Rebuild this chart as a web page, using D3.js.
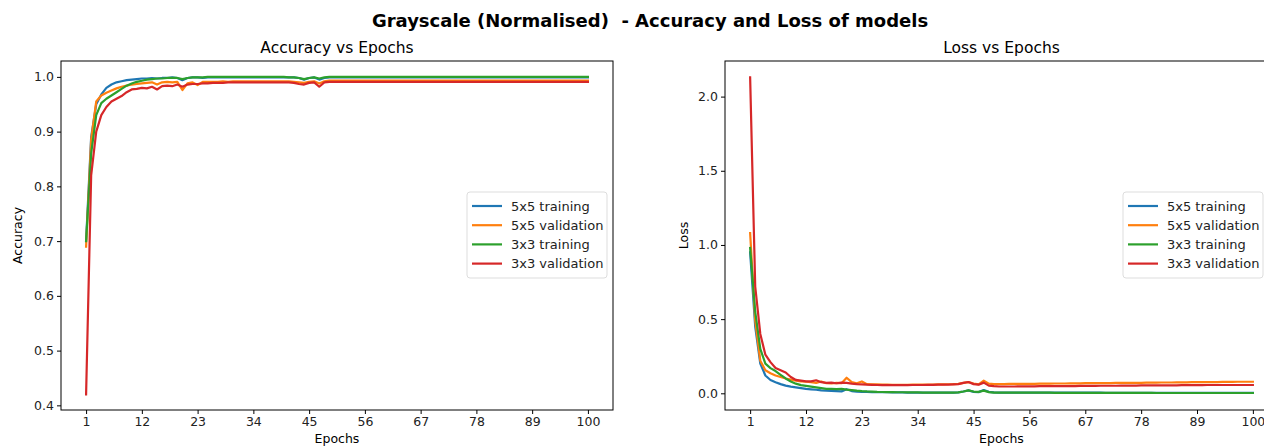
<!DOCTYPE html>
<html>
<head>
<meta charset="utf-8">
<script src="https://cdn.jsdelivr.net/npm/d3@7"></script>
<style>
  body { margin: 0; background: #fff; }
  svg { display: block; font-family: "DejaVu Sans", sans-serif; }
</style>
</head>
<body>
<script>
// data, one value per epoch (1..100)
var epochs = d3.range(1, 101);
var xTicks = [1, 12, 23, 34, 45, 56, 67, 78, 89, 100];
var accTicks = [0.4, 0.5, 0.6, 0.7, 0.8, 0.9, 1.0];
var lossTicks = [0.0, 0.5, 1.0, 1.5, 2.0];
var seriesNames = ["5x5 training", "5x5 validation", "3x3 training", "3x3 validation"];
var colors = ["#1f77b4", "#ff7f0e", "#2ca02c", "#d62728"];

var acc5Train = [
  0.700, 0.890, 0.950, 0.968, 0.980, 0.986, 0.990, 0.992, 0.994, 0.995,
  0.996, 0.997, 0.997, 0.998, 0.997, 0.998, 0.998, 0.999, 0.998, 0.994,
  0.998, 0.999, 0.999, 0.998, 0.999, 0.999, 0.999, 0.999, 0.999, 0.999,
  0.999, 0.999, 0.999, 0.999, 0.999, 0.999, 0.999, 0.999, 0.999, 0.999,
  0.999, 0.999, 0.998, 0.995, 0.998, 0.999, 0.995, 0.998, 0.999, 0.999,
  0.999, 0.999, 0.999, 0.999, 0.999, 0.999, 0.999, 0.999, 0.999, 0.999,
  0.999, 0.999, 0.999, 0.999, 0.999, 0.999, 0.999, 0.999, 0.999, 0.999,
  0.999, 0.999, 0.999, 0.999, 0.999, 0.999, 0.999, 0.999, 0.999, 0.999,
  0.999, 0.999, 0.999, 0.999, 0.999, 0.999, 0.999, 0.999, 0.999, 0.999,
  0.999, 0.999, 0.999, 0.999, 0.999, 0.999, 0.999, 0.999, 0.999, 0.999
];
var acc5Val = [
  0.690, 0.885, 0.955, 0.966, 0.971, 0.975, 0.979, 0.982, 0.984, 0.986,
  0.987, 0.988, 0.989, 0.990, 0.986, 0.990, 0.991, 0.990, 0.991, 0.976,
  0.988, 0.990, 0.985, 0.991, 0.991, 0.991, 0.991, 0.992, 0.991, 0.992,
  0.992, 0.992, 0.992, 0.992, 0.992, 0.992, 0.992, 0.992, 0.992, 0.992,
  0.992, 0.991, 0.990, 0.989, 0.991, 0.992, 0.988, 0.992, 0.993, 0.993,
  0.993, 0.993, 0.993, 0.993, 0.993, 0.993, 0.993, 0.993, 0.993, 0.993,
  0.993, 0.993, 0.993, 0.993, 0.993, 0.993, 0.993, 0.993, 0.993, 0.993,
  0.993, 0.993, 0.993, 0.993, 0.993, 0.993, 0.993, 0.993, 0.993, 0.993,
  0.993, 0.993, 0.993, 0.993, 0.993, 0.993, 0.993, 0.993, 0.993, 0.993,
  0.993, 0.993, 0.993, 0.993, 0.993, 0.993, 0.993, 0.993, 0.993, 0.993
];
var acc3Train = [
  0.700, 0.860, 0.930, 0.952, 0.960, 0.966, 0.972, 0.978, 0.984, 0.988,
  0.991, 0.993, 0.995, 0.996, 0.997, 0.997, 0.998, 0.998, 0.998, 0.996,
  0.998, 0.999, 0.999, 0.999, 1.000, 1.000, 1.000, 1.000, 1.000, 1.000,
  1.000, 1.000, 1.000, 1.000, 1.000, 1.000, 1.000, 1.000, 1.000, 1.000,
  0.999, 0.999, 0.998, 0.996, 0.998, 0.999, 0.997, 0.999, 1.000, 1.000,
  1.000, 1.000, 1.000, 1.000, 1.000, 1.000, 1.000, 1.000, 1.000, 1.000,
  1.000, 1.000, 1.000, 1.000, 1.000, 1.000, 1.000, 1.000, 1.000, 1.000,
  1.000, 1.000, 1.000, 1.000, 1.000, 1.000, 1.000, 1.000, 1.000, 1.000,
  1.000, 1.000, 1.000, 1.000, 1.000, 1.000, 1.000, 1.000, 1.000, 1.000,
  1.000, 1.000, 1.000, 1.000, 1.000, 1.000, 1.000, 1.000, 1.000, 1.000
];
var acc3Val = [
  0.420, 0.820, 0.900, 0.930, 0.945, 0.955, 0.960, 0.965, 0.972, 0.977,
  0.978, 0.980, 0.979, 0.982, 0.977, 0.983, 0.984, 0.983, 0.986, 0.982,
  0.986, 0.987, 0.987, 0.988, 0.988, 0.989, 0.989, 0.989, 0.990, 0.990,
  0.990, 0.990, 0.990, 0.990, 0.990, 0.990, 0.990, 0.990, 0.990, 0.990,
  0.990, 0.989, 0.987, 0.986, 0.989, 0.990, 0.982, 0.990, 0.991, 0.991,
  0.991, 0.991, 0.991, 0.991, 0.991, 0.991, 0.991, 0.991, 0.991, 0.991,
  0.991, 0.991, 0.991, 0.991, 0.991, 0.991, 0.991, 0.991, 0.991, 0.991,
  0.991, 0.991, 0.991, 0.991, 0.991, 0.991, 0.991, 0.991, 0.991, 0.991,
  0.991, 0.991, 0.991, 0.991, 0.991, 0.991, 0.991, 0.991, 0.991, 0.991,
  0.991, 0.991, 0.991, 0.991, 0.991, 0.991, 0.991, 0.991, 0.991, 0.991
];

var loss5Train = [
  0.950, 0.450, 0.200, 0.120, 0.090, 0.075, 0.062, 0.052, 0.045, 0.040,
  0.035, 0.030, 0.027, 0.024, 0.020, 0.018, 0.016, 0.015, 0.013, 0.028,
  0.015, 0.012, 0.010, 0.010, 0.008, 0.008, 0.007, 0.007, 0.006, 0.006,
  0.006, 0.005, 0.005, 0.005, 0.005, 0.005, 0.005, 0.005, 0.005, 0.005,
  0.005, 0.006, 0.012, 0.020, 0.010, 0.008, 0.022, 0.010, 0.006, 0.005,
  0.004, 0.004, 0.004, 0.004, 0.004, 0.004, 0.004, 0.004, 0.004, 0.004,
  0.004, 0.004, 0.004, 0.004, 0.004, 0.004, 0.004, 0.004, 0.004, 0.004,
  0.003, 0.003, 0.003, 0.003, 0.003, 0.003, 0.003, 0.003, 0.003, 0.003,
  0.003, 0.003, 0.003, 0.003, 0.003, 0.003, 0.003, 0.003, 0.003, 0.003,
  0.003, 0.003, 0.003, 0.003, 0.003, 0.003, 0.003, 0.003, 0.003, 0.003
];
var loss5Val = [
  1.080, 0.490, 0.220, 0.155, 0.135, 0.120, 0.110, 0.100, 0.092, 0.085,
  0.080, 0.078, 0.075, 0.070, 0.080, 0.068, 0.066, 0.070, 0.068, 0.105,
  0.075, 0.068, 0.080, 0.062, 0.060, 0.060, 0.058, 0.058, 0.057, 0.057,
  0.057, 0.057, 0.058, 0.058, 0.058, 0.059, 0.059, 0.060, 0.060, 0.061,
  0.062, 0.064, 0.070, 0.075, 0.066, 0.060, 0.085, 0.065, 0.062, 0.062,
  0.062, 0.063, 0.063, 0.063, 0.064, 0.064, 0.064, 0.065, 0.065, 0.065,
  0.066, 0.066, 0.066, 0.067, 0.067, 0.067, 0.068, 0.068, 0.068, 0.069,
  0.069, 0.069, 0.070, 0.070, 0.070, 0.071, 0.071, 0.071, 0.072, 0.072,
  0.072, 0.073, 0.073, 0.073, 0.074, 0.074, 0.074, 0.075, 0.075, 0.075,
  0.076, 0.076, 0.076, 0.077, 0.077, 0.077, 0.078, 0.078, 0.078, 0.078
];
var loss3Train = [
  0.980, 0.550, 0.300, 0.200, 0.170, 0.150, 0.125, 0.100, 0.080, 0.065,
  0.055, 0.050, 0.045, 0.040, 0.035, 0.030, 0.030, 0.028, 0.030, 0.025,
  0.022, 0.018, 0.015, 0.013, 0.012, 0.010, 0.009, 0.008, 0.008, 0.007,
  0.007, 0.006, 0.006, 0.006, 0.005, 0.005, 0.005, 0.005, 0.005, 0.005,
  0.005, 0.006, 0.012, 0.020, 0.012, 0.010, 0.018, 0.008, 0.005, 0.004,
  0.004, 0.004, 0.004, 0.004, 0.004, 0.004, 0.004, 0.004, 0.004, 0.004,
  0.003, 0.003, 0.003, 0.003, 0.003, 0.003, 0.003, 0.003, 0.003, 0.003,
  0.003, 0.003, 0.003, 0.003, 0.003, 0.003, 0.003, 0.003, 0.003, 0.003,
  0.002, 0.002, 0.002, 0.002, 0.002, 0.002, 0.002, 0.002, 0.002, 0.002,
  0.002, 0.002, 0.002, 0.002, 0.002, 0.002, 0.002, 0.002, 0.002, 0.002
];
var loss3Val = [
  2.130, 0.720, 0.400, 0.260, 0.210, 0.170, 0.155, 0.140, 0.110, 0.090,
  0.085, 0.080, 0.080, 0.088, 0.075, 0.070, 0.072, 0.068, 0.072, 0.070,
  0.065, 0.062, 0.060, 0.058, 0.057, 0.056, 0.055, 0.055, 0.055, 0.055,
  0.055, 0.055, 0.056, 0.056, 0.056, 0.057, 0.057, 0.058, 0.058, 0.058,
  0.060, 0.062, 0.070, 0.076, 0.062, 0.058, 0.072, 0.052, 0.048, 0.046,
  0.046, 0.046, 0.046, 0.047, 0.047, 0.047, 0.047, 0.048, 0.048, 0.048,
  0.048, 0.049, 0.049, 0.049, 0.049, 0.050, 0.050, 0.050, 0.050, 0.051,
  0.051, 0.051, 0.051, 0.052, 0.052, 0.052, 0.052, 0.053, 0.053, 0.053,
  0.053, 0.054, 0.054, 0.054, 0.054, 0.055, 0.055, 0.055, 0.055, 0.055,
  0.056, 0.056, 0.056, 0.056, 0.056, 0.056, 0.056, 0.056, 0.056, 0.056
];

var Width = 1264, Height = 446;

var svg = d3.select("body").append("svg")
  .attr("width", Width)
  .attr("height", Height);

svg.append("text")
  .attr("x", 650).attr("y", 27)
  .attr("text-anchor", "middle")
  .attr("font-size", 18).attr("font-weight", "bold")
  .attr("fill", "#000")
  .attr("xml:space", "preserve")
  .text("Grayscale (Normalised)  - Accuracy and Loss of models");

drawPanel({
  left: 61, right: 613, top: 61, bottom: 410,
  title: "Accuracy vs Epochs", ylabel: "Accuracy", ylabelX: 18,
  yDomain: [0.3915, 1.029], yTicks: accTicks, yFmt: d3.format(".1f"),
  series: [acc5Train, acc5Val, acc3Train, acc3Val],
  legendX: 467, legendY: 192
});

drawPanel({
  left: 725, right: 1278, top: 61, bottom: 410,
  title: "Loss vs Epochs", ylabel: "Loss", ylabelX: 684,
  yDomain: [-0.1125, 2.24], yTicks: lossTicks, yFmt: d3.format(".1f"),
  series: [loss5Train, loss5Val, loss3Train, loss3Val],
  legendX: 1123, legendY: 192
});

function drawPanel(p) {
  var x = d3.scaleLinear().domain([-3.95, 104.95]).range([p.left, p.right]);
  var y = d3.scaleLinear().domain(p.yDomain).range([p.bottom, p.top]);
  var g = svg.append("g");

  // lines
  var line = d3.line()
    .x(function(d, i) { return x(epochs[i]); })
    .y(function(d) { return y(d); });
  p.series.forEach(function(s, k) {
    g.append("path")
      .datum(s)
      .attr("d", line)
      .attr("fill", "none")
      .attr("stroke", colors[k])
      .attr("stroke-width", 2.2)
      .attr("stroke-linejoin", "round")
      .attr("stroke-linecap", "square");
  });

  // frame
  g.append("rect")
    .attr("x", p.left).attr("y", p.top)
    .attr("width", p.right - p.left).attr("height", p.bottom - p.top)
    .attr("fill", "none").attr("stroke", "#000").attr("stroke-width", 1);

  var xAxis = d3.axisBottom(x).tickValues(xTicks).tickSize(4).tickPadding(3);
  var gx = g.append("g").attr("transform", "translate(0," + p.bottom + ")").call(xAxis);
  var yAxis = d3.axisLeft(y).tickValues(p.yTicks).tickFormat(p.yFmt).tickSize(4).tickPadding(3);
  var gy = g.append("g").attr("transform", "translate(" + p.left + ",0)").call(yAxis);
  [gx, gy].forEach(function(a) {
    a.select(".domain").remove();
    a.selectAll("text").attr("font-size", 12.5).attr("fill", "#222").attr("font-family", "DejaVu Sans, sans-serif");
    a.selectAll("line").attr("stroke", "#000");
  });

  g.append("text")
    .attr("x", (p.left + p.right) / 2).attr("y", 53)
    .attr("text-anchor", "middle").attr("font-size", 15.5).attr("fill", "#000")
    .text(p.title);
  g.append("text")
    .attr("x", (p.left + p.right) / 2).attr("y", 443)
    .attr("text-anchor", "middle").attr("font-size", 12.5).attr("fill", "#000")
    .text("Epochs");
  g.append("text")
    .attr("transform", "translate(" + p.ylabelX + "," + ((p.top + p.bottom) / 2) + ") rotate(-90)")
    .attr("text-anchor", "middle").attr("font-size", 12.5).attr("fill", "#000")
    .attr("dy", "0.35em")
    .text(p.ylabel);

  // legend
  var lg = g.append("g").attr("transform", "translate(" + p.legendX + "," + p.legendY + ")");
  lg.append("rect")
    .attr("width", 140).attr("height", 86).attr("rx", 3)
    .attr("fill", "#fff").attr("fill-opacity", 0.8)
    .attr("stroke", "#ddd").attr("stroke-width", 1);
  seriesNames.forEach(function(name, k) {
    var yy = 14 + k * 19.2;
    lg.append("line")
      .attr("x1", 5).attr("x2", 35).attr("y1", yy).attr("y2", yy)
      .attr("stroke", colors[k]).attr("stroke-width", 2.2);
    lg.append("text")
      .attr("x", 44).attr("y", yy).attr("dy", "0.35em")
      .attr("font-size", 13).attr("fill", "#222")
      .text(name);
  });
}
</script>
</body>
</html>
